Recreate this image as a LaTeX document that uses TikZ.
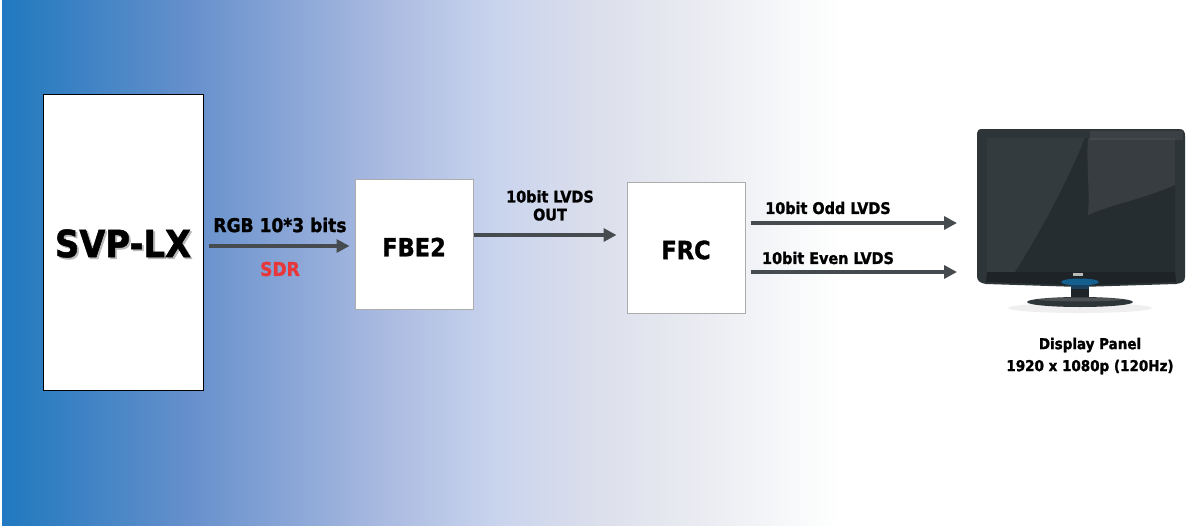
\documentclass[tikz,border=0pt]{standalone}
\usepackage{fontspec}
\setmainfont{DejaVu Sans Condensed}[BoldFeatures={FakeBold=1.3}]
\usetikzlibrary{arrows.meta,calc}
\definecolor{g0}{HTML}{2179C1}
\definecolor{g1}{HTML}{2A7CC0}
\definecolor{g2}{HTML}{6690CC}
\definecolor{g3}{HTML}{A8B9E0}
\definecolor{g4}{HTML}{C8D3ED}
\definecolor{g5}{HTML}{DDE0EC}
\definecolor{g6}{HTML}{EDEEF3}
\definecolor{g7}{HTML}{FBFCFC}
\definecolor{arrowgray}{HTML}{454B4E}
\definecolor{sdrred}{HTML}{E8373A}
\definecolor{tvbody}{HTML}{2E3538}
\definecolor{tvscreen}{HTML}{343B3E}
\definecolor{tvdark}{HTML}{262D30}
\definecolor{tvbottom}{HTML}{1D2326}
\tikzset{
  blockbox/.style={draw=gray!65, line width=1pt, fill=white, inner sep=0pt},
  lbl/.style={font=\bfseries\fontsize{16}{18}\selectfont, inner sep=0pt, align=center},
  arr/.style={draw=arrowgray, line width=4pt, -{Triangle[length=13pt,width=13pt]}},
  bigtxt/.style={font=\bfseries\fontsize{25}{28}\selectfont, inner sep=0pt},
}
\begin{document}
\begin{tikzpicture}[x=1pt,y=-1pt]
\useasboundingbox (0,0) rectangle (1186,525);
% background gradient
\fill[white] (0,0) rectangle (1186,525);
\shade[left color=g0,right color=g1] (2,0) rectangle (30.5,525);
\shade[left color=g1,right color=g2] (30,0) rectangle (190.5,525);
\shade[left color=g2,right color=g3] (190,0) rectangle (378.5,525);
\shade[left color=g3,right color=g4] (378,0) rectangle (492.5,525);
\shade[left color=g4,right color=g5] (492,0) rectangle (605.5,525);
\shade[left color=g5,right color=g6] (605,0) rectangle (719.5,525);
\shade[left color=g6,right color=g7] (719,0) rectangle (817.5,525);
\shade[left color=g7,right color=white] (817,0) rectangle (840,525);

% blocks
\node[draw=black, line width=1pt, fill=white, minimum width=160pt, minimum height=296pt, inner sep=0pt] (svp) at (123,242) {};
\node[font=\bfseries\fontsize{37.5}{40}\selectfont, text=gray!55, inner sep=0pt] (svpshadow) at (124.8,245.3) {SVP-LX};
\node[font=\bfseries\fontsize{37.5}{40}\selectfont, inner sep=0pt] (svptxt) at (123,243.5) {SVP-LX};

\node[blockbox, minimum width=118pt, minimum height=130pt] (fbe) at (414,244) {};
\node[bigtxt] (fbetxt) at (414,247) {FBE2};

\node[blockbox, minimum width=118pt, minimum height=131pt] (frc) at (686,247.5) {};
\node[bigtxt] (frctxt) at (686,250) {FRC};

% TV
\coordinate (tvin) at (970,247.5);
\fill[black!10, opacity=0.6] (1080,308) ellipse [x radius=72, y radius=5];
\fill[tvbody] (982,129) -- (1179,129) .. controls (1184,129) and (1185,132) .. (1185,136)
  -- (1185,277) .. controls (1185,282) and (1182,283) .. (1176,284)
  -- (1080,287) -- (986,284) .. controls (980,283) and (977,281) .. (977,276)
  -- (977,136) .. controls (977,131) and (978,129) .. (982,129) -- cycle;
\fill[tvscreen] (987,138) rectangle (1175,272);
\fill[tvdark] (1085,138) -- (1175,138) -- (1175,272) -- (1015,272)
  .. controls (1045,225) and (1070,175) .. (1085,138) -- cycle;
\fill[white, opacity=0.08] (1088,138) -- (1175,138) -- (1175,185)
  .. controls (1140,200) and (1110,205) .. (1088,215) .. controls (1090,190) and (1086,160) .. (1088,138) -- cycle;
\fill[white, opacity=0.06] (1090,131) -- (1183,131) -- (1183,140) -- (1090,140) -- cycle;
\fill[tvbottom] (987,272) -- (1175,272) -- (1176,282) -- (1080,285.5) -- (986,282) -- cycle;
\fill[cyan!70!blue, opacity=0.6] (1080,282) ellipse [x radius=19, y radius=3.5];
\fill[gray!55] (1073,273) rectangle (1083,276);
\fill[tvbottom] (1071,285) rectangle (1089,298);
\fill[cyan!60!blue, opacity=0.35] (1071,285) rectangle (1089,289);
\fill[tvbody] (1080,302) ellipse [x radius=53, y radius=5];
\fill[white, opacity=0.15] (1080,299.5) ellipse [x radius=42, y radius=1.8];

% labels
\node[lbl, font=\bfseries\fontsize{19}{21}\selectfont] (rgb) at (280,225) {RGB 10*3 bits};
\node[lbl, font=\bfseries\fontsize{19}{21}\selectfont, text=sdrred] (sdr) at (280,269) {SDR};
\node[lbl, align=center] (lvds) at (550,205.5) {10bit LVDS\\OUT};
\node[lbl] (odd) at (828,208) {10bit Odd LVDS};
\node[lbl] (even) at (828,258) {10bit Even LVDS};
\node[lbl, font=\bfseries\fontsize{15}{22}\selectfont] (panel) at (1090,356) {Display Panel\\1920 x 1080p (120Hz)};

% connectors
\draw[arr, shorten <=5pt, shorten >=5pt] ([yshift=-4pt]svp.east) -- ([yshift=-4pt]svp.east -| fbe.west);
\draw[arr, shorten >=10pt] ([yshift=9pt]fbe.east) -- ([yshift=9pt]fbe.east -| frc.west);
\draw[arr, shorten <=5pt, shorten >=13pt] ([yshift=24.5pt]frc.east) -- ([yshift=24.5pt]frc.east -| tvin);
\draw[arr, shorten <=5pt, shorten >=13pt] ([yshift=-24.5pt]frc.east) -- ([yshift=-24.5pt]frc.east -| tvin);
\end{tikzpicture}
\end{document}
